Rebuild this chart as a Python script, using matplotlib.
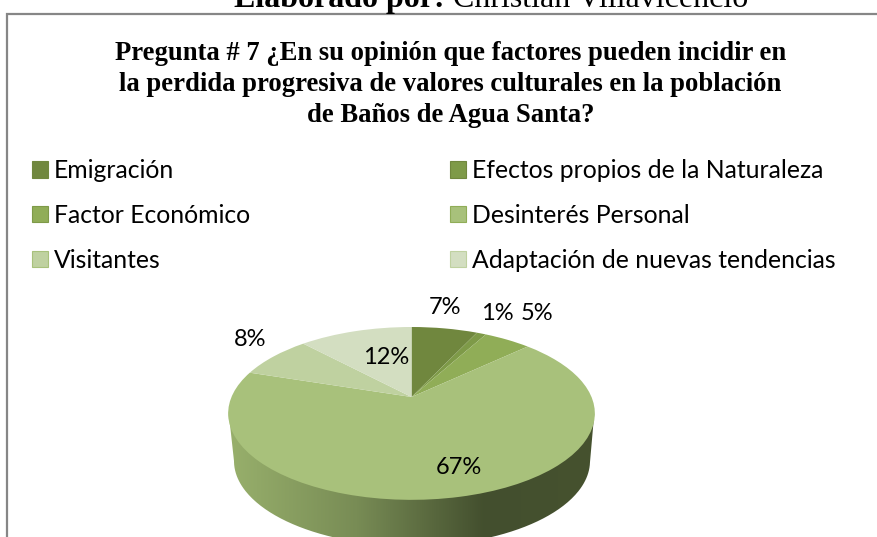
import numpy as np
import matplotlib
matplotlib.use('Agg')
import matplotlib.pyplot as plt
from matplotlib.patches import Patch, PathPatch
from matplotlib.path import Path
from matplotlib.transforms import Transform
from matplotlib.colors import LinearSegmentedColormap

categories = ['Emigración', 'Efectos propios de la Naturaleza', 'Factor Económico',
              'Desinterés Personal', 'Visitantes', 'Adaptación de nuevas tendencias']
values = [7, 1, 5, 67, 8, 12]
colors = ['#70873E', '#7E9A48', '#90AD57', '#A8C17B', '#BFD1A0', '#D3DEC1']
title = 'Pregunta # 7 ¿En su opinión que factores pueden incidir en\nla perdida progresiva de valores culturales en la población\nde Baños de Agua Santa?'

W, H = 877, 537
APEX_X, APEX_Y = 411.5, 397


class Tilt(Transform):
    # circulo unitario -> elipse con perspectiva (pixeles)
    input_dims = output_dims = 2
    has_inverse = False

    def transform_non_affine(self, xy):
        xy = np.asarray(xy, float)
        w = 1 + 0.19 * xy[:, 1]
        return np.column_stack([APEX_X + 180 * xy[:, 0] / w, APEX_Y - 83.3 * xy[:, 1] / w])


fig = plt.figure(figsize=(W / 100, H / 100), dpi=100)
bg = fig.add_axes([0, 0, 1, 1])
bg.set_xlim(0, W)
bg.set_ylim(H, 0)
bg.axis('off')

# marco
bg.plot([6.5, 6.5, W], [H, 14, 14], color='#868686', lw=1.6, solid_joinstyle='miter')

# texto de arriba, cortado por el borde
bg.text(234, 7, 'Elaborado por:', family='Liberation Serif', weight='bold', fontsize=23, va='baseline')
bg.text(453, 7, 'Christian Villavicencio', family='Liberation Serif', fontsize=23, va='baseline')

bg.text(450.5, 84.5, title, family='Liberation Serif', weight='bold', fontsize=19.2,
        ha='center', va='center', linespacing=1.32, color='black')

# pared lateral
t = np.linspace(np.pi, 2 * np.pi, 200)
top_x = 411.5 + 183 * np.cos(t)
top_y = 411 - 86 * np.sin(t)
bot_x = 412 + 178 * np.cos(t)
bot_y = 461 - 85 * np.sin(t)
wall = Path(np.column_stack([np.r_[top_x, bot_x[::-1]], np.r_[top_y, bot_y[::-1]]]))
wall_patch = PathPatch(wall, fc='none', ec='none')
bg.add_patch(wall_patch)
cmap = LinearSegmentedColormap.from_list('wall', [(0, '#98B06C'), (0.35, '#788C55'),
                                                  (0.7, '#434F2E'), (1, '#46522F')])
img = bg.imshow(np.linspace(0, 1, 256)[None, :], cmap=cmap, extent=(228, 595, H, 400),
                aspect='auto', zorder=2)
img.set_clip_path(wall_patch)
bg.set_xlim(0, W)
bg.set_ylim(H, 0)

# tarta
pie_ax = fig.add_axes([0, 0, 1, 1], facecolor='none')
wedges, _ = pie_ax.pie(values, colors=colors, startangle=90, counterclock=False)
for wd in wedges:
    wd.set_transform(Tilt() + bg.transData)
    wd.set_edgecolor('none')
    wd.set_clip_on(False)
pie_ax.axis('off')

# etiquetas
label_pos = [(445, 308), (497, 314), (537, 314), (459, 468), (250, 340), (386, 358)]
for v, (px, py) in zip(values, label_pos):
    pie_ax.text(px, py, f'{v}%', family='Lato', fontsize=17, ha='center', va='center',
                transform=bg.transData, zorder=5)

# leyenda, por columnas
order = [0, 2, 4, 1, 3, 5]
handles = [Patch(fc=colors[i], ec=colors[max(i - 1, 0)], lw=0.8, label=categories[i]) for i in order]
leg = fig.legend(handles=handles, ncol=2, frameon=False, loc='upper left',
                 bbox_to_anchor=(32 / W, 1 - 159 / H), prop={'family': 'Lato', 'size': 17.8},
                 handlelength=0.65, handleheight=0.65, handletextpad=0.25,
                 labelspacing=0.88, columnspacing=8.08, borderpad=0, borderaxespad=0)

fig.savefig('out.png', dpi=100)
